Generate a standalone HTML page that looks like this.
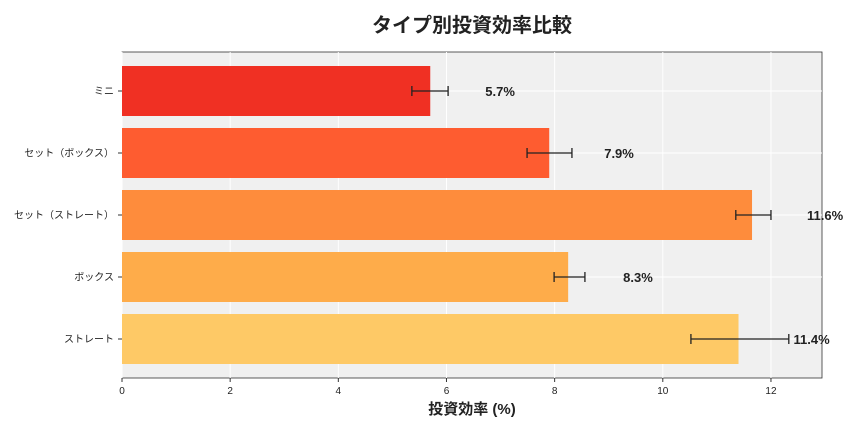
<!DOCTYPE html>
<html><head><meta charset="utf-8">
<style>
body{margin:0;background:#fff;font-family:"Liberation Sans","Noto Sans CJK JP",sans-serif;}
svg text{font-family:"Liberation Sans","Noto Sans CJK JP",sans-serif;}
</style></head>
<body>
<svg id="chart" width="864" height="432" viewBox="0 0 864 432" xmlns="http://www.w3.org/2000/svg">
<text x="472" y="32" text-anchor="middle" font-size="20" font-weight="bold" fill="#222">タイプ別投資効率比較</text>
<rect x="122" y="52" width="700" height="326" fill="#f0f0f0" stroke="#333" stroke-width="0.8"/>
<g id="grid"></g><g id="bars"></g><g id="axes"></g>
<text x="472" y="414" text-anchor="middle" font-size="15" font-weight="bold" fill="#222">投資効率 (%)</text>
</svg>
<script>
const categories=["ミニ","セット（ボックス）","セット（ストレート）","ボックス","ストレート"];
const values=[5.7,7.9,11.65,8.25,11.4];
const errLow=[5.36,7.49,11.35,7.99,10.52];
const errHigh=[6.03,8.32,12.0,8.56,12.33];
const valueLabels=["5.7%","7.9%","11.6%","8.3%","11.4%"];
const colors=["#f03023","#fe5c30","#fe8c3c","#feac4a","#fec966"];
const xTicks=[0,2,4,6,8,10,12];
const NS="http://www.w3.org/2000/svg";
const x0=122,pxPer=54.08,plotTop=52,plotBottom=378,step=62,firstC=91,bh=50;
const xs=v=>x0+v*pxPer, yc=i=>firstC+i*step;
function mk(t,a,p){const e=document.createElementNS(NS,t);for(const k in a)e.setAttribute(k,a[k]);p.appendChild(e);return e;}
const grid=document.getElementById('grid'),bars=document.getElementById('bars'),axes=document.getElementById('axes');
xTicks.forEach(t=>{
 const l=mk('line',{x1:xs(t),x2:xs(t),y1:plotTop,y2:plotBottom,stroke:'#fff','stroke-width':1},grid);
 
 
 const tk=mk('line',{x1:xs(t),x2:xs(t),y1:plotBottom,y2:plotBottom+4,stroke:'#333'},axes);
 
 
 const tx=mk('text',{x:xs(t),y:plotBottom+16,'text-anchor':'middle','font-size':10,fill:'#222'},axes);
 tx.textContent=t;
 
 
});
categories.forEach((c,i)=>{
 const y=yc(i);
 const gl=mk('line',{x1:x0,x2:822,y1:y,y2:y,stroke:'#fff','stroke-width':1},grid);
 
 
 const r=mk('rect',{x:x0,y:y-bh/2,width:xs(values[i])-x0,height:bh,fill:colors[i]},bars);
 
 
 const e=mk('path',{d:`M${xs(errLow[i])},${y}H${xs(errHigh[i])}M${xs(errLow[i])},${y-5}V${y+5}M${xs(errHigh[i])},${y-5}V${y+5}`,stroke:'#222','stroke-width':1.3,fill:'none'},bars);
 
 
 const vl=mk('text',{x:xs(values[i])+55,y:y+5,'font-size':13,'font-weight':'bold',fill:'#222'},bars);
 vl.textContent=valueLabels[i];
 
 
 const tk=mk('line',{x1:x0-4,x2:x0,y1:y,y2:y,stroke:'#333'},axes);
 
 
 const cl=mk('text',{x:x0-8,y:y+3.5,'text-anchor':'end','font-size':10,fill:'#222'},axes);
 cl.textContent=c;
 
 
});
</script>
</body></html>
